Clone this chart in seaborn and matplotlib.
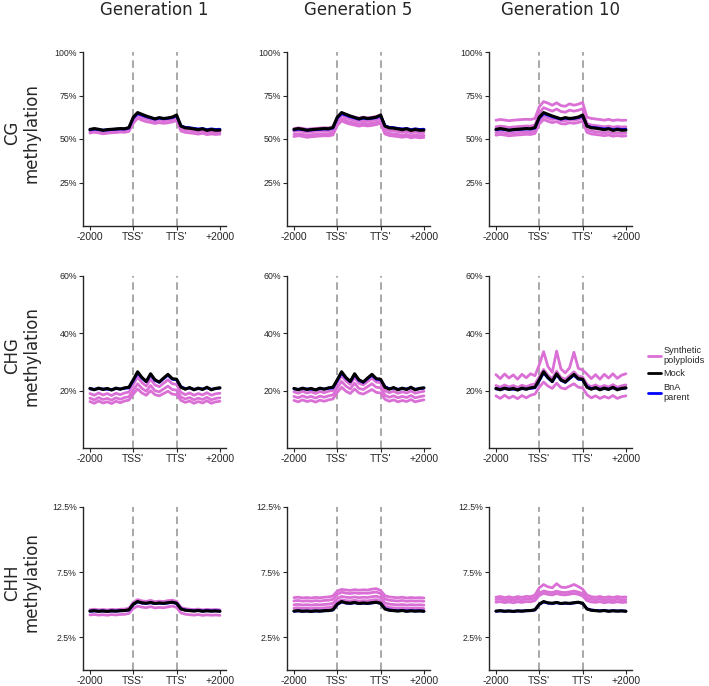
import numpy as np
import pandas as pd
import matplotlib.pyplot as plt
import seaborn as sns
from matplotlib.lines import Line2D
from matplotlib.ticker import FuncFormatter

sns.set_style('ticks')
plt.rcParams['font.family'] = ['DejaVu Sans']

# positions along the metagene (bins), ticks at -2000 / TSS' / TTS' / +2000
pos = list(range(31))
tick_pos = [0, 10, 20, 30]
tick_labels = ['-2000', "TSS'", "TTS'", '+2000']
generations = ['Generation 1', 'Generation 5', 'Generation 10']
contexts = ['CG', 'CHG', 'CHH']

# ---- CG ----
cg_mock = [55.5, 56.0, 55.6, 55.0, 55.4, 55.6, 55.8, 56.0, 55.9, 56.6,
           62.5, 65.2, 64.2, 63.2, 62.4, 61.6, 62.3, 61.8, 62.1, 62.6,
           63.8, 57.4, 56.4, 56.2, 55.8, 55.3, 55.9, 54.9, 55.5, 55.0, 55.1]
cg_bna = [55.2, 55.7, 55.4, 55.1, 55.2, 55.4, 55.6, 55.8, 55.7, 56.3,
          62.0, 64.6, 63.7, 62.8, 62.1, 61.4, 62.0, 61.6, 61.9, 62.3,
          63.3, 57.6, 56.7, 56.5, 56.1, 55.8, 56.0, 55.4, 55.8, 55.5, 55.6]
cg_g1 = [
    [54.6, 55.1, 54.7, 54.2, 54.5, 54.7, 54.9, 55.1, 55.0, 55.6,
     60.8, 63.6, 62.4, 61.6, 61.0, 60.3, 60.9, 60.5, 60.8, 61.3,
     62.2, 56.2, 55.2, 55.0, 54.6, 54.2, 54.7, 53.8, 54.3, 53.9, 54.0],
    [53.4, 53.9, 53.5, 53.0, 53.3, 53.6, 53.7, 54.0, 53.8, 54.4,
     59.0, 62.0, 60.8, 60.0, 59.5, 58.9, 59.4, 59.0, 59.3, 59.8,
     60.6, 54.6, 53.8, 53.5, 53.2, 52.8, 53.3, 52.5, 52.9, 52.6, 52.8],
]
cg_g5 = [
    [56.0, 56.4, 56.1, 55.6, 55.9, 56.1, 56.3, 56.5, 56.4, 57.0,
     62.6, 65.0, 64.0, 63.2, 62.6, 62.0, 62.6, 62.1, 62.5, 63.0,
     63.6, 57.5, 56.6, 56.4, 56.0, 55.7, 56.1, 55.3, 55.8, 55.4, 55.6],
    [54.3, 54.8, 54.4, 53.9, 54.2, 54.4, 54.6, 54.8, 54.6, 55.2,
     60.6, 63.4, 62.2, 61.4, 60.8, 60.2, 60.7, 60.3, 60.6, 61.1,
     62.0, 55.8, 54.9, 54.6, 54.3, 53.9, 54.3, 53.6, 54.0, 53.6, 53.8],
    [52.6, 53.0, 52.7, 52.2, 52.5, 52.7, 52.9, 53.1, 53.0, 53.5,
     59.0, 61.6, 60.5, 59.7, 59.2, 58.6, 59.1, 58.7, 59.0, 59.5,
     60.3, 54.1, 53.2, 52.9, 52.6, 52.2, 52.6, 51.9, 52.3, 51.9, 52.1],
    [51.4, 51.9, 51.5, 51.0, 51.3, 51.5, 51.7, 51.9, 51.8, 52.3,
     57.8, 60.4, 59.3, 58.5, 58.0, 57.4, 57.9, 57.5, 57.8, 58.3,
     59.1, 52.9, 52.0, 51.7, 51.4, 51.0, 51.4, 50.7, 51.1, 50.7, 50.9],
]
cg_g10 = [
    [60.8, 61.2, 60.9, 60.5, 60.8, 61.0, 61.2, 61.3, 61.2, 61.8,
     68.5, 71.5, 70.6, 69.4, 70.8, 69.2, 68.8, 70.2, 69.4, 70.0,
     71.0, 62.6, 61.8, 61.5, 61.2, 60.8, 61.3, 60.6, 61.0, 60.7, 60.8],
    [57.0, 57.4, 57.1, 56.6, 56.9, 57.1, 57.3, 57.5, 57.4, 58.0,
     64.8, 68.0, 67.0, 66.0, 67.2, 65.8, 65.4, 66.6, 66.0, 66.5,
     67.4, 58.8, 58.0, 57.7, 57.4, 57.0, 57.4, 56.8, 57.2, 56.9, 57.0],
    [53.6, 54.0, 53.7, 53.2, 53.5, 53.7, 53.9, 54.1, 54.0, 54.6,
     60.2, 63.0, 62.0, 61.2, 61.8, 60.6, 60.4, 61.2, 60.8, 61.3,
     62.0, 55.4, 54.5, 54.2, 53.9, 53.5, 53.9, 53.2, 53.6, 53.2, 53.4],
    [52.2, 52.6, 52.3, 51.8, 52.1, 52.3, 52.5, 52.7, 52.6, 53.2,
     58.6, 61.2, 60.2, 59.4, 60.0, 58.8, 58.6, 59.4, 59.0, 59.5,
     60.2, 53.8, 52.9, 52.6, 52.3, 51.9, 52.3, 51.6, 52.0, 51.6, 51.8],
]

# ---- CHG ----
chg_mock = [20.8, 20.3, 20.9, 20.4, 20.8, 20.2, 20.9, 20.5, 21.0, 21.2,
            23.8, 26.6, 24.6, 23.2, 25.9, 23.8, 23.0, 24.4, 25.7, 24.2,
            24.0, 21.2, 20.5, 21.1, 20.3, 20.9, 20.4, 21.2, 20.3, 20.8, 21.0]
chg_bna = [20.6, 20.5, 20.7, 20.6, 20.5, 20.4, 20.7, 20.6, 20.8, 21.0,
           23.5, 26.2, 24.4, 23.1, 25.6, 23.6, 22.9, 24.2, 25.4, 24.0,
           23.8, 21.4, 20.7, 20.9, 20.5, 20.7, 20.6, 21.0, 20.5, 20.7, 20.9]
chg_g1 = [
    [19.0, 18.4, 19.2, 18.5, 19.0, 18.3, 19.1, 18.6, 19.2, 19.5,
     22.2, 24.8, 22.8, 21.6, 24.0, 22.0, 21.4, 22.6, 23.8, 22.4,
     22.2, 19.4, 18.6, 19.2, 18.4, 19.0, 18.5, 19.3, 18.4, 18.9, 19.1],
    [17.4, 16.8, 17.6, 16.9, 17.3, 16.7, 17.5, 17.0, 17.6, 17.9,
     20.2, 22.4, 20.8, 19.8, 21.8, 20.0, 19.6, 20.6, 21.6, 20.4,
     20.2, 17.8, 17.1, 17.6, 16.8, 17.4, 16.9, 17.7, 16.8, 17.3, 17.5],
    [16.2, 15.6, 16.4, 15.7, 16.1, 15.5, 16.3, 15.8, 16.4, 16.7,
     18.8, 20.6, 19.2, 18.4, 20.0, 18.6, 18.2, 19.0, 19.8, 18.8,
     18.6, 16.6, 15.9, 16.4, 15.6, 16.2, 15.7, 16.5, 15.6, 16.1, 16.3],
]
chg_g5 = [
    [19.6, 19.1, 19.8, 19.2, 19.6, 19.0, 19.7, 19.3, 19.8, 20.1,
     22.8, 25.2, 23.4, 22.2, 24.6, 22.6, 22.0, 23.2, 24.4, 23.0,
     22.8, 20.0, 19.3, 19.8, 19.1, 19.6, 19.2, 19.9, 19.1, 19.5, 19.8],
    [18.0, 17.5, 18.2, 17.6, 18.0, 17.4, 18.1, 17.7, 18.2, 18.5,
     21.0, 23.2, 21.6, 20.6, 22.6, 20.8, 20.4, 21.4, 22.4, 21.2,
     21.0, 18.4, 17.7, 18.2, 17.5, 18.0, 17.6, 18.3, 17.5, 17.9, 18.2],
    [16.6, 16.1, 16.8, 16.2, 16.6, 16.0, 16.7, 16.3, 16.8, 17.1,
     19.4, 21.2, 19.8, 19.0, 20.6, 19.2, 18.8, 19.6, 20.4, 19.4,
     19.2, 17.0, 16.3, 16.8, 16.1, 16.6, 16.2, 16.9, 16.1, 16.5, 16.8],
]
chg_g10 = [
    [25.6, 24.2, 25.8, 24.4, 25.5, 24.0, 25.7, 24.5, 25.9, 25.2,
     29.0, 33.6, 28.4, 26.4, 33.8, 27.6, 26.2, 28.0, 33.4, 27.8,
     27.2, 25.8, 24.2, 25.6, 24.0, 25.7, 24.4, 25.9, 24.3, 25.4, 25.9],
    [21.8, 21.2, 22.0, 21.3, 21.8, 21.1, 21.9, 21.4, 22.0, 22.3,
     24.8, 27.4, 25.4, 24.2, 26.8, 24.6, 24.0, 25.2, 26.6, 25.0,
     24.8, 22.2, 21.4, 22.0, 21.2, 21.8, 21.3, 22.1, 21.2, 21.7, 22.0],
    [18.2, 17.3, 18.4, 17.4, 18.1, 17.2, 18.3, 17.5, 18.4, 18.8,
     21.2, 23.0, 21.6, 20.8, 22.6, 21.0, 20.6, 21.6, 22.4, 21.2,
     21.0, 18.6, 17.5, 18.2, 17.3, 18.0, 17.4, 18.3, 17.3, 17.9, 18.2],
]

# ---- CHH ----
chh_mock = [4.52, 4.55, 4.50, 4.53, 4.49, 4.54, 4.51, 4.55, 4.56, 4.62,
            5.05, 5.25, 5.15, 5.12, 5.18, 5.10, 5.14, 5.11, 5.16, 5.20,
            5.12, 4.68, 4.58, 4.55, 4.52, 4.56, 4.50, 4.54, 4.51, 4.53, 4.50]
chh_bna = [4.50, 4.53, 4.51, 4.52, 4.50, 4.52, 4.52, 4.54, 4.55, 4.60,
           5.02, 5.22, 5.13, 5.10, 5.16, 5.09, 5.12, 5.10, 5.14, 5.18,
           5.10, 4.70, 4.60, 4.57, 4.54, 4.57, 4.52, 4.55, 4.53, 4.54, 4.52]
chh_g1 = [
    [4.62, 4.66, 4.61, 4.64, 4.60, 4.65, 4.62, 4.66, 4.67, 4.74,
     5.18, 5.40, 5.30, 5.26, 5.34, 5.24, 5.28, 5.25, 5.32, 5.36,
     5.26, 4.80, 4.70, 4.66, 4.63, 4.67, 4.61, 4.65, 4.62, 4.64, 4.61],
    [4.22, 4.26, 4.21, 4.24, 4.20, 4.25, 4.22, 4.26, 4.27, 4.34,
     4.72, 4.90, 4.82, 4.78, 4.86, 4.76, 4.80, 4.77, 4.84, 4.90,
     4.80, 4.38, 4.28, 4.24, 4.21, 4.25, 4.19, 4.23, 4.20, 4.22, 4.19],
]
chh_g5 = [
    [5.55, 5.58, 5.53, 5.56, 5.52, 5.57, 5.54, 5.58, 5.60, 5.68,
     6.05, 6.18, 6.14, 6.10, 6.16, 6.12, 6.15, 6.13, 6.20, 6.24,
     6.10, 5.70, 5.60, 5.57, 5.54, 5.58, 5.52, 5.56, 5.53, 5.55, 5.52],
    [5.30, 5.33, 5.28, 5.31, 5.27, 5.32, 5.29, 5.33, 5.35, 5.42,
     5.80, 5.96, 5.90, 5.86, 5.92, 5.87, 5.90, 5.88, 5.94, 5.98,
     5.86, 5.45, 5.35, 5.32, 5.29, 5.33, 5.27, 5.31, 5.28, 5.30, 5.27],
    [5.00, 5.03, 4.98, 5.01, 4.97, 5.02, 4.99, 5.03, 5.05, 5.12,
     5.48, 5.64, 5.58, 5.55, 5.60, 5.55, 5.58, 5.56, 5.62, 5.66,
     5.55, 5.15, 5.05, 5.02, 4.99, 5.03, 4.97, 5.01, 4.98, 5.00, 4.97],
    [4.74, 4.77, 4.72, 4.75, 4.71, 4.76, 4.73, 4.77, 4.79, 4.86,
     5.22, 5.38, 5.32, 5.29, 5.34, 5.29, 5.32, 5.30, 5.36, 5.40,
     5.29, 4.89, 4.79, 4.76, 4.73, 4.77, 4.71, 4.75, 4.72, 4.74, 4.71],
]
chh_g10 = [
    [5.58, 5.64, 5.55, 5.62, 5.54, 5.63, 5.57, 5.65, 5.62, 5.75,
     6.30, 6.55, 6.38, 6.30, 6.62, 6.36, 6.32, 6.42, 6.56, 6.40,
     6.20, 5.75, 5.62, 5.58, 5.64, 5.55, 5.62, 5.56, 5.63, 5.58, 5.60],
    [5.40, 5.44, 5.37, 5.42, 5.36, 5.43, 5.38, 5.45, 5.43, 5.52,
     5.90, 6.06, 5.98, 5.94, 6.04, 5.96, 5.94, 5.99, 6.05, 5.98,
     5.86, 5.52, 5.42, 5.39, 5.44, 5.36, 5.42, 5.37, 5.43, 5.38, 5.40],
    [5.20, 5.24, 5.17, 5.22, 5.16, 5.23, 5.18, 5.25, 5.23, 5.32,
     5.72, 5.88, 5.80, 5.76, 5.86, 5.78, 5.76, 5.81, 5.87, 5.80,
     5.68, 5.32, 5.22, 5.19, 5.24, 5.16, 5.22, 5.17, 5.23, 5.18, 5.20],
]

mock = {'CG': cg_mock, 'CHG': chg_mock, 'CHH': chh_mock}
bna = {'CG': cg_bna, 'CHG': chg_bna, 'CHH': chh_bna}
synth = {
    'CG': [cg_g1, cg_g5, cg_g10],
    'CHG': [chg_g1, chg_g5, chg_g10],
    'CHH': [chh_g1, chh_g5, chh_g10],
}
y_ticks = {'CG': [25, 50, 75, 100], 'CHG': [20, 40, 60], 'CHH': [2.5, 7.5, 12.5]}
y_max = {'CG': 100, 'CHG': 60, 'CHH': 12.5}

# tabela longa
rows = []
for ctx in contexts:
    for gi, gen in enumerate(generations):
        for si, line in enumerate(synth[ctx][gi]):
            for p, v in zip(pos, line):
                rows.append((ctx, gen, 'Synthetic polyploids', f's{si}', p, v))
        for p, v in zip(pos, bna[ctx]):
            rows.append((ctx, gen, 'BnA parent', 'b', p, v))
        for p, v in zip(pos, mock[ctx]):
            rows.append((ctx, gen, 'Mock', 'm', p, v))
df = pd.DataFrame(rows, columns=['context', 'generation', 'group', 'sample', 'pos', 'meth'])

cores = {'Synthetic polyploids': 'orchid', 'BnA parent': '#0000ff', 'Mock': 'black'}
larguras = {'Synthetic polyploids': 2.0, 'BnA parent': 2.0, 'Mock': 2.2}

W, H = 709, 686
fig = plt.figure(figsize=(W / 100, H / 100), dpi=100)

col_left = [83, 287, 489]
col_w = 143
row_tb = [(52, 226), (276, 448), (507, 670)]

for r, ctx in enumerate(contexts):
    top, bot = row_tb[r]
    for c, gen in enumerate(generations):
        ax = fig.add_axes([col_left[c] / W, 1 - bot / H, col_w / W, (bot - top) / H])
        sub = df[(df['context'] == ctx) & (df['generation'] == gen)]
        for grp in ['Synthetic polyploids', 'BnA parent', 'Mock']:
            sns.lineplot(data=sub[sub['group'] == grp], x='pos', y='meth', units='sample',
                         estimator=None, color=cores[grp], lw=larguras[grp], ax=ax, legend=False)
        for xv in [10, 20]:
            ax.axvline(xv, color='#999999', lw=1.2, ls=(0, (4.5, 2.8)), zorder=0)
        ax.set_xlim(-1.6, 31.4)
        ax.set_ylim(0, y_max[ctx])
        ax.set_xticks(tick_pos)
        ax.set_xticklabels(tick_labels, family='Liberation Sans', fontsize=7.5)
        ax.set_yticks(y_ticks[ctx])
        ax.yaxis.set_major_formatter(FuncFormatter(lambda v, p: f'{v:g}%'))
        for lab in ax.get_yticklabels():
            lab.set_family('Liberation Sans')
            lab.set_fontsize(6.3)
        ax.set_xlabel('')
        ax.set_ylabel('')
        ax.tick_params(length=3, width=0.8, pad=1.5)
        sns.despine(ax=ax)
        for s in ['left', 'bottom']:
            ax.spines[s].set_linewidth(1.0)
        if r == 0:
            fig.text((col_left[c] + col_w / 2) / W, 1 - 10 / H, gen, ha='center', va='center', fontsize=12)
    fig.text(22 / W, 1 - ((top + bot) / 2 - 6) / H, f'{ctx}\nmethylation', rotation=90,
             ha='center', va='center', fontsize=12, linespacing=1.1)

handles = [Line2D([], [], color=cores[g], lw=2) for g in ['Synthetic polyploids', 'Mock', 'BnA parent']]
fig.legend(handles, ['Synthetic\npolyploids', 'Mock', 'BnA\nparent'], loc='center left',
           bbox_to_anchor=(644 / W, 1 - 374 / H), frameon=False,
           prop={'family': 'Liberation Sans', 'size': 6.6}, handlelength=1.4,
           handletextpad=0.35, labelspacing=0.5, borderaxespad=0)

fig.savefig('out.png', dpi=100)
